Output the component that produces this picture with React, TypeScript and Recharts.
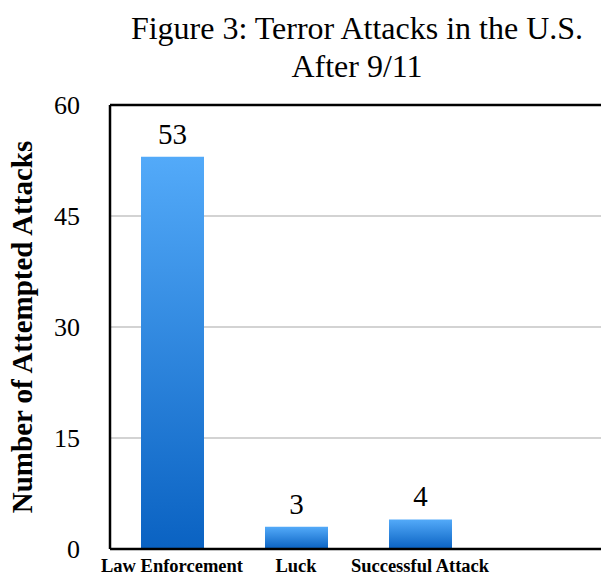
import React from 'react';
import { BarChart, Bar, XAxis, YAxis, CartesianGrid, ReferenceLine, LabelList, Label } from 'recharts';

const CATEGORIES = ['Law Enforcement', 'Luck', 'Successful Attack', ''];
const ATTACKS = [53, 3, 4, null];
const Y_TICKS = [0, 15, 30, 45, 60];

const data = CATEGORIES.map((name, i) => ({ name, value: ATTACKS[i] }));

const SERIF = '"Liberation Serif", "Times New Roman", Times, serif';

const App: React.FC = () => {
  return (
    <div
      style={{
        position: 'absolute',
        left: 0,
        top: 0,
        width: 601,
        height: 575,
        overflow: 'hidden',
        background: '#fff',
        fontFamily: SERIF,
      }}
    >
      <BarChart
        width={620}
        height={575}
        data={data}
        margin={{ top: 105, right: 14, left: 0, bottom: 0 }}
        style={{ fontFamily: SERIF }}
      >
        <defs>
          <linearGradient id="barFill" x1="0" y1="0" x2="0" y2="1">
            <stop offset="0%" stopColor="#53aaf9" />
            <stop offset="100%" stopColor="#0a62c2" />
          </linearGradient>
        </defs>
        <text x={357} y={39} textAnchor="middle" fontSize={32} fill="#000" fontFamily={SERIF}>
          Figure 3: Terror Attacks in the U.S.
        </text>
        <text x={357} y={77} textAnchor="middle" fontSize={32} fill="#000" fontFamily={SERIF}>
          After 9/11
        </text>
        <CartesianGrid vertical={false} stroke="#c4c4c4" strokeWidth={1.5} />
        <XAxis
          dataKey="name"
          height={26}
          tickSize={0}
          tickMargin={10}
          axisLine={{ stroke: '#000', strokeWidth: 2.5 }}
          tick={{ fill: '#000', fontSize: 18.5, fontWeight: 700, fontFamily: SERIF }}
          interval={0}
        />
        <YAxis
          width={110}
          domain={[0, 60]}
          ticks={Y_TICKS}
          tickSize={0}
          tickMargin={30}
          axisLine={{ stroke: '#000', strokeWidth: 2.5 }}
          tick={{ fill: '#000', fontSize: 26, fontFamily: SERIF }}
        >
          <Label
            value="Number of Attempted Attacks"
            angle={-90}
            position="insideLeft"
            offset={22}
            fontFamily={SERIF}
            style={{ textAnchor: 'middle', fontSize: 29, fontWeight: 700, fill: '#000', fontFamily: SERIF }}
          />
        </YAxis>
        <ReferenceLine y={60} stroke="#000" strokeWidth={2.5} />
        <Bar dataKey="value" fill="url(#barFill)" barSize={63} isAnimationActive={false}>
          <LabelList
            dataKey="value"
            position="top"
            offset={13}
            fontFamily={SERIF}
            fontSize={29}
            fill="#000"
            style={{ fontSize: 29, fill: '#000', fontFamily: SERIF }}
          />
        </Bar>
      </BarChart>
    </div>
  );
};

export default App;
